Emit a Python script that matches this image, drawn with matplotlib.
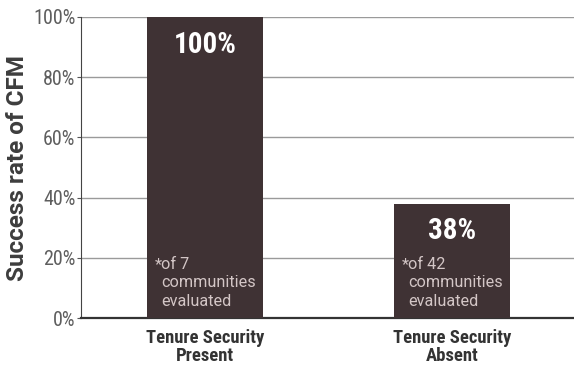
import matplotlib.pyplot as plt
from matplotlib import font_manager

categories = ["Tenure Security\nPresent", "Tenure Security\nAbsent"]
success = [100, 38]
value_labels = ["100%", "38%"]
notes = ["of 7\ncommunities\nevaluated", "of 42\ncommunities\nevaluated"]
yticks = [0, 20, 40, 60, 80, 100]

# pick a condensed family that has a real bold
have_bold = {f.name for f in font_manager.fontManager.ttflist if f.weight == 700}
cand = ["Roboto Condensed", "Asap Condensed", "Barlow Condensed"]
fam = [c for c in cand if c in have_bold][:1]
plt.rcParams['font.family'] = fam + ['DejaVu Sans']
plt.rcParams['font.stretch'] = 'condensed'
wide = ["Roboto", "DejaVu Sans"]

fig = plt.figure(figsize=(5.74, 3.66), dpi=100)
ax = fig.add_axes([0.141, 0.131, 0.859, 0.8226])

bar_color = "#3f3234"
pos = list(range(len(categories)))
ax.bar(pos, success, width=0.47, color=bar_color, zorder=3)

for x, v, lab, note in zip(pos, success, value_labels, notes):
    ax.text(x, v - 4.6, lab, ha="center", va="top", color="white",
            fontsize=21, fontweight="bold", zorder=4)
    ax.text(x - 0.176, 20.3, "*", ha="right", va="top", color="#d3c6c6",
            fontsize=11.7, zorder=4, family=wide, stretch="normal")
    ax.text(x - 0.176, 20.3, note, ha="left", va="top", color="#d3c6c6",
            fontsize=11.7, linespacing=1.29, zorder=4,
            family=wide, stretch="normal")

ax.set_xlim(-0.502, 1.494)
ax.set_ylim(0, 100)
ax.set_yticks(yticks)
ax.set_yticklabels([f"{t}%" for t in yticks], color="#5e5e5e", fontsize=14.5)
ax.set_xticks(pos)
ax.set_xticklabels(categories, fontsize=13.4, fontweight="bold", color="#333333",
                   linespacing=1.0)
ax.tick_params(axis="x", length=0, pad=8)
ax.tick_params(axis="y", length=3, color="#555555", pad=1)

ax.yaxis.grid(True, color="#9a9a9a", linewidth=1.0, zorder=0)
ax.set_axisbelow(True)
for s in ["top", "right"]:
    ax.spines[s].set_visible(False)
ax.spines["left"].set_color("#444444")
ax.spines["bottom"].set_color("#333333")
ax.spines["bottom"].set_linewidth(1.6)

ax.set_ylabel("Success rate of CFM", fontsize=17.5, fontweight="bold",
              color="#3d3d3d", labelpad=3, family=wide, stretch="normal")

fig.savefig("out.png", dpi=100)
